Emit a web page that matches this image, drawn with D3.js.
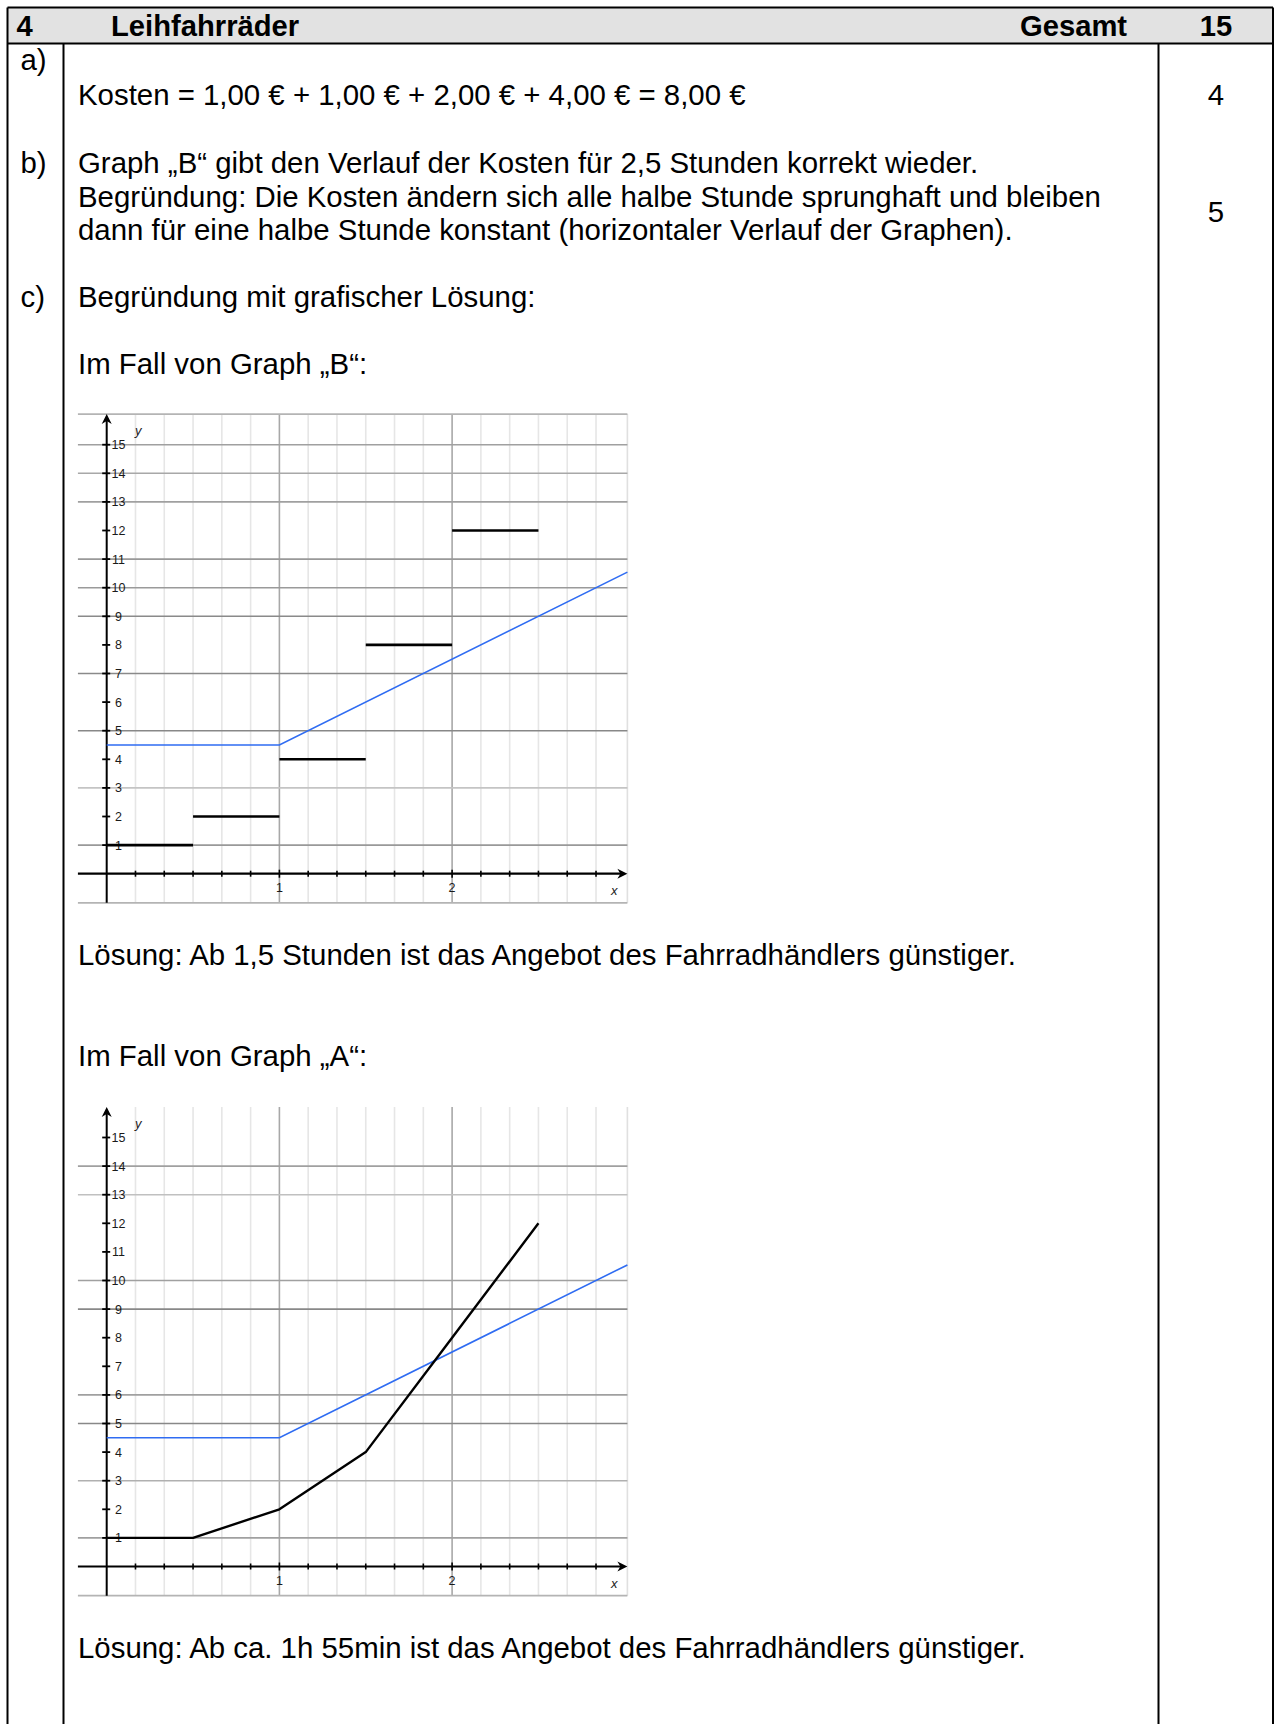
<!DOCTYPE html>
<html><head><meta charset="utf-8">
<script src="https://cdn.jsdelivr.net/npm/d3@7"></script>
<style>
body{margin:0;background:#fff}
svg{display:block}
text{font-family:"Liberation Sans",Arial,sans-serif}
</style>
</head><body>
<svg id="c" width="1274" height="1724"></svg>
<script>
// ---------- data ----------
const headerTexts = ["4", "Leihfahrräder", "Gesamt", "15"];
const partLabels = ["a)", "b)", "c)"];
const partPoints = ["4", "5"];
const textA = ["Kosten = 1,00 € + 1,00 € + 2,00 € + 4,00 € = 8,00 €"];
const textB = [
  "Graph „B“ gibt den Verlauf der Kosten für 2,5 Stunden korrekt wieder.",
  "Begründung: Die Kosten ändern sich alle halbe Stunde sprunghaft und bleiben",
  "dann für eine halbe Stunde konstant (horizontaler Verlauf der Graphen)."
];
const textC = [
  "Begründung mit grafischer Lösung:",
  "Im Fall von Graph „B“:",
  "Lösung: Ab 1,5 Stunden ist das Angebot des Fahrradhändlers günstiger.",
  "Im Fall von Graph „A“:",
  "Lösung: Ab ca. 1h 55min ist das Angebot des Fahrradhändlers günstiger."
];

// Graph B: step function (rental costs per half hour)
const stepStart = [0, 0.5, 1, 1.5, 2];
const stepEnd   = [0.5, 1, 1.5, 2, 2.5];
const stepCost  = [1, 2, 4, 8, 12];
// Graph A: polyline of rental costs
const polyHours = [0, 0.5, 1, 1.5, 2, 2.5];
const polyCost  = [1, 1, 2, 4, 8, 12];
// Fahrradhändler offer (blue)
const offerHours = [0, 1, 3.015];
const offerCost  = [4.5, 4.5, 10.545];

const yTickValues = [1,2,3,4,5,6,7,8,9,10,11,12,13,14,15];
const xTickLabels = [1, 2];
// visible horizontal grid rows in each picture, with their grey
const gridRowsB  = [15, 14, 13, 11, 10, 9, 7, 5, 3, 1];
const gridShadeB = ["#a0a0a0","#a8a8a8","#a0a0a0","#999","#9a9a9a","#8a8a8a","#8a8a8a","#888","#c4c4c4","#999"];
const gridRowsA  = [14, 13, 10, 9, 6, 5, 3, 1];
const gridShadeA = ["#a0a0a0","#c0c0c0","#a0a0a0","#888","#a0a0a0","#888","#b0b0b0","#a0a0a0"];

// ---------- layout ----------
const svg = d3.select("#c");
const W = 1274, H = 1724;
const L = 7.5, R = 1273, T = 7.5, HB = 43.5, C1 = 63.5, C2 = 1158.5;
const FS = 29.4, HFS = 29.2;

// header
svg.append("rect").attr("x", L).attr("y", T).attr("width", R - L).attr("height", HB - T).attr("fill", "#e2e2e2");
const lines = [
  [L, T, R, T], [L, HB, R, HB], [L, T, L, H], [R, T, R, H], [C1, HB, C1, H], [C2, HB, C2, H]
];
svg.selectAll("line.tb").data(lines).join("line").attr("class", "tb")
  .attr("x1", d => d[0]).attr("y1", d => d[1]).attr("x2", d => d[2]).attr("y2", d => d[3])
  .attr("stroke", "#000").attr("stroke-width", 2);

const hx = [16.5, 111, 1020, 1216];
const ha = ["start", "start", "start", "middle"];
svg.selectAll("text.hd").data(headerTexts).join("text").attr("class", "hd")
  .attr("x", (d, i) => hx[i]).attr("y", 35.5).attr("text-anchor", (d, i) => ha[i])
  .attr("font-size", HFS).attr("font-weight", "bold").text(d => d);

function txt(s, x, y, anchor) {
  svg.append("text").attr("x", x).attr("y", y).attr("font-size", FS)
    .attr("text-anchor", anchor || "start").text(s);
}
const TX = 78;
txt(partLabels[0], 20.5, 70);
txt(textA[0], TX, 104.5);
txt(partPoints[0], 1216, 104.5, "middle");
txt(partLabels[1], 20.5, 173);
textB.forEach((s, i) => txt(s, TX, 173 + i * 33.5));
txt(partPoints[1], 1216, 222, "middle");
txt(partLabels[2], 20.5, 307);
txt(textC[0], TX, 307);
txt(textC[1], TX, 374);
txt(textC[2], TX, 965);
txt(textC[3], TX, 1066);
txt(textC[4], TX, 1658);

// ---------- graphs ----------
function drawGraph(y0, rows, shades, topFrame, drawData) {
  const g = svg.append("g");
  const x = d3.scaleLinear().domain([0, 1]).range([106.7, 106.7 + 172.7]);
  const y = d3.scaleLinear().domain([0, 1]).range([y0, y0 - 28.6]);
  const xMin = -1/6, xMax = 3.015, yMin = -1.02, yMax = 16.07;

  // vertical grid every 10 minutes
  const vk = d3.range(1, 18);
  g.selectAll("line.vg").data(vk).join("line").attr("class", "vg")
    .attr("x1", d => x(d / 6)).attr("x2", d => x(d / 6))
    .attr("y1", y(yMax)).attr("y2", y(yMin))
    .attr("stroke", d => d % 6 === 0 ? "#a8a8a8" : "#e6e6e6")
    .attr("stroke-width", 1.6);
  g.append("line").attr("x1", x(xMax)).attr("x2", x(xMax)).attr("y1", y(yMax)).attr("y2", y(yMin))
    .attr("stroke", "#e0e0e0").attr("stroke-width", 1.6);

  // horizontal grid rows
  g.selectAll("line.hg").data(rows).join("line").attr("class", "hg")
    .attr("x1", x(xMin)).attr("x2", x(xMax)).attr("y1", d => y(d)).attr("y2", d => y(d))
    .attr("stroke", (d, i) => shades[i]).attr("stroke-width", 1.6);
  const frames = topFrame ? [yMax, yMin] : [yMin];
  g.selectAll("line.fr").data(frames).join("line").attr("class", "fr")
    .attr("x1", x(xMin)).attr("x2", x(xMax)).attr("y1", d => y(d)).attr("y2", d => y(d))
    .attr("stroke", "#b4b4b4").attr("stroke-width", 1.6);

  // axes
  g.append("line").attr("x1", x(0)).attr("x2", x(0)).attr("y1", y(yMin)).attr("y2", y(yMax) + 4)
    .attr("stroke", "#000").attr("stroke-width", 2);
  g.append("line").attr("x1", x(xMin)).attr("x2", x(xMax) - 4).attr("y1", y(0)).attr("y2", y(0))
    .attr("stroke", "#000").attr("stroke-width", 2.2);
  g.append("path").attr("d", `M${x(0)},${y(yMax)} l-5,10 l5,-3 l5,3 z`).attr("fill", "#000");
  g.append("path").attr("d", `M${x(xMax)},${y(0)} l-10,-5 l3,5 l-3,5 z`).attr("fill", "#000");

  // y ticks + labels
  g.selectAll("line.yt").data(yTickValues).join("line").attr("class", "yt")
    .attr("x1", x(0) - 4.5).attr("x2", x(0) + 3.5).attr("y1", d => y(d)).attr("y2", d => y(d))
    .attr("stroke", "#000").attr("stroke-width", 1.8);
  g.selectAll("text.yl").data(yTickValues).join("text").attr("class", "yl")
    .attr("x", x(0) + 11.8).attr("y", d => y(d) + 4.5).attr("text-anchor", "middle")
    .attr("font-size", 12.5).attr("fill", "#1a1a1a")
    .text(d => d);
  // x ticks + labels
  g.selectAll("line.xt").data(d3.range(1, 18)).join("line").attr("class", "xt")
    .attr("x1", d => x(d / 6)).attr("x2", d => x(d / 6))
    .attr("y1", d => y(0) - (d % 6 ? 3 : 4)).attr("y2", d => y(0) + (d % 6 ? 3 : 4))
    .attr("stroke", "#000").attr("stroke-width", 1.6);
  g.selectAll("text.xl").data(xTickLabels).join("text").attr("class", "xl")
    .attr("x", d => x(d)).attr("y", y(0) + 18.5).attr("text-anchor", "middle")
    .attr("font-size", 12.5).attr("fill", "#1a1a1a").text(d => d);
  g.append("text").attr("x", 611).attr("y", y(0) + 21).attr("font-size", 13)
    .attr("font-style", "italic").attr("fill", "#222").text("x");
  g.append("text").attr("x", 135).attr("y", y(15) - 10).attr("font-size", 13)
    .attr("font-style", "italic").attr("fill", "#222").text("y");

  // blue offer line
  const line = d3.line().x(d => x(d[0])).y(d => y(d[1]));
  g.append("path").attr("d", line(offerHours.map((h, i) => [h, offerCost[i]])))
    .attr("fill", "none").attr("stroke", "#2f6cf2").attr("stroke-width", 1.6);

  drawData(g, x, y, line);
}

drawGraph(873.7, gridRowsB, gridShadeB, true, (g, x, y) => {
  g.selectAll("line.step").data(stepCost).join("line").attr("class", "step")
    .attr("x1", (d, i) => x(stepStart[i])).attr("x2", (d, i) => x(stepEnd[i]))
    .attr("y1", d => y(d)).attr("y2", d => y(d))
    .attr("stroke", "#000").attr("stroke-width", 2.6);
});

drawGraph(1566.5, gridRowsA, gridShadeA, false, (g, x, y, line) => {
  g.append("path").attr("d", line(polyHours.map((h, i) => [h, polyCost[i]])))
    .attr("fill", "none").attr("stroke", "#000").attr("stroke-width", 2.4)
    .attr("stroke-linejoin", "round");
});
</script>
</body></html>
